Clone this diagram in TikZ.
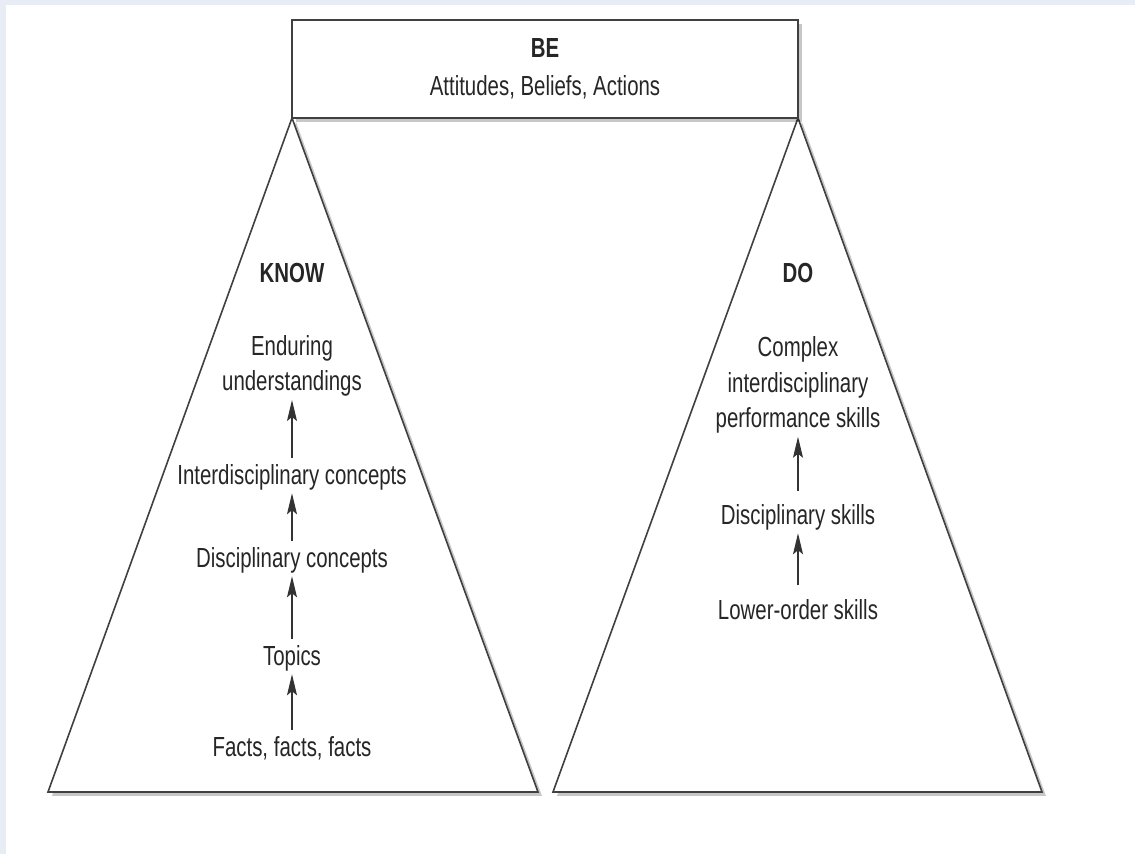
\documentclass[tikz,border=0pt]{standalone}
\usepackage{fontspec}
\setmainfont[FakeStretch=0.74]{Liberation Sans}
\usepackage{xcolor}
\usepackage{tikz}
\usetikzlibrary{arrows.meta, calc, shadows, positioning}
\tikzset{
    boxnode/.style = {draw=black!75, fill=white, rectangle, line width=0.8pt, outer sep=0pt, inner sep=0em,
      minimum width=253pt, minimum height=49pt, text=black!85, font=\fontsize{13.8}{17.5}\selectfont,
      drop shadow={shadow xshift=2pt, shadow yshift=-2pt, fill=black, opacity=0.22}},
    pyramid/.style = {draw=black!75, fill=white, line width=0.8pt,
      drop shadow={shadow xshift=2pt, shadow yshift=-2pt, fill=black, opacity=0.22}},
    textnode/.style  = {draw=none, fill=none, rectangle, minimum size=0cm, inner sep=0em,
      node distance=0em, text=black!85, font=\fontsize{13.8}{17.75}\selectfont},
    titlenode/.style = {textnode, font=\fontsize{13.8}{17.75}\selectfont\bfseries},
    connect/.style = {black!80, line width=0.6pt, -{Stealth[length=10.5pt, width=5pt, inset=2pt]},
      shorten >=1.5pt, shorten <=3pt},
    every text node part/.style={align=center}
}
\definecolor{framebg}{RGB}{232, 236, 244}

\begin{document}
\begin{tikzpicture}[x=0.5pt, y=-0.5pt]
    \useasboundingbox (0,0) rectangle (1135,854);
    \fill [framebg] (0,0) rectangle (1135,854);
    \fill [white] (6,5) rectangle (1135,854);

    \coordinate (knowapex) at (292,118);
    \coordinate (knowleft) at (48,792);
    \coordinate (knowright) at (538,792);
    \coordinate (doapex) at (798,118);
    \coordinate (doleft) at (553,792);
    \coordinate (doright) at (1042,792);
    \draw [pyramid] (knowapex) -- (knowleft) -- (knowright) -- cycle;
    \draw [pyramid] (doapex) -- (doleft) -- (doright) -- cycle;

    \node [boxnode, name=BE] at (545,69) {\textbf{BE}\\[1.5pt]Attitudes, Beliefs, Actions};

    % know side
    \node [titlenode, name=know, below of=knowapex, yshift=-77.5pt] {KNOW};
    \node [textnode, name=enduring, below of=know, yshift=-46.5pt] {Enduring\\understandings};
    \node [textnode, name=interconcepts, below of=enduring, yshift=-55.5pt] {Interdisciplinary concepts};
    \node [textnode, name=discconcepts, below of=interconcepts, yshift=-41.5pt] {Disciplinary concepts};
    \node [textnode, name=topics, below of=discconcepts, yshift=-49pt] {Topics};
    \node [textnode, name=facts, below of=topics, yshift=-45pt] {Facts, facts, facts};

    \draw [connect] (interconcepts) -- (enduring);
    \draw [connect] (discconcepts) -- (interconcepts);
    \draw [connect] (topics) -- (discconcepts);
    \draw [connect] (facts) -- (topics);

    % do side
    \node [titlenode, name=do, below of=doapex, yshift=-77.5pt] {DO};
    \node [textnode, name=complex, below of=do, yshift=-56pt] {Complex\\interdisciplinary\\performance skills};
    \node [textnode, name=discskills, below of=complex, yshift=-66pt] {Disciplinary skills};
    \node [textnode, name=lowerskills, below of=discskills, yshift=-46.5pt] {Lower-order skills};

    \draw [connect, shorten <=6.5pt] (discskills) -- (complex);
    \draw [connect, shorten <=7pt] (lowerskills) -- (discskills);
\end{tikzpicture}
\end{document}
